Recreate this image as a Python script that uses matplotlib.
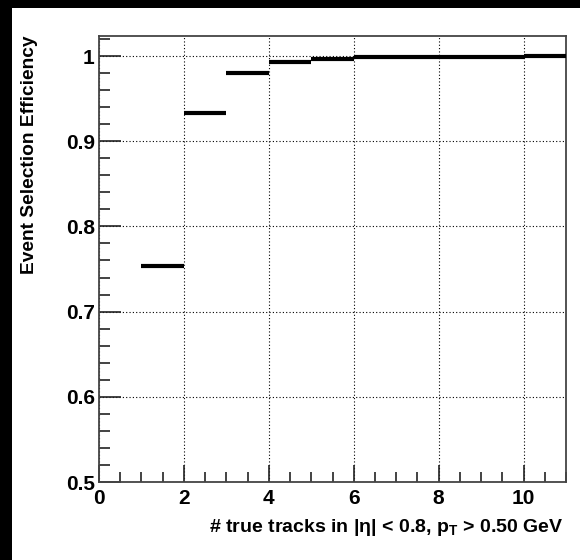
import matplotlib
matplotlib.use("Agg")
import matplotlib.pyplot as plt
from matplotlib.patches import Rectangle
from matplotlib.ticker import MultipleLocator

plt.rcParams['font.family'] = ['Liberation Sans', 'DejaVu Sans']
plt.rcParams['font.weight'] = 'bold'
plt.rcParams['mathtext.fontset'] = 'custom'
plt.rcParams['mathtext.rm'] = 'Liberation Sans:bold'
plt.rcParams['mathtext.it'] = 'Liberation Sans:bold'
plt.rcParams['mathtext.bf'] = 'Liberation Sans:bold'

# efficiency per bin of true track multiplicity
bin_lo = [1, 2, 3, 4, 5, 6, 7, 8, 9, 10]
bin_hi = [2, 3, 4, 5, 6, 7, 8, 9, 10, 11]
eff = [0.753, 0.9335, 0.980, 0.993, 0.997, 0.9985, 0.9987, 0.9988, 0.9988, 1.0]

fig = plt.figure(figsize=(5.8, 5.6), dpi=100)
fig.patch.set_facecolor('black')
W, H = 580.0, 560.0
fig.add_artist(Rectangle((12 / W, 0), 1 - 12 / W, 1 - 8 / H, transform=fig.transFigure,
                         facecolor='white', edgecolor='none', zorder=-10))

ax = fig.add_axes([99 / W, 1 - 482 / H, (566 - 99) / W, (482 - 36) / H])
ax.set_facecolor('white')

ax.hlines(eff, bin_lo, bin_hi, colors='black', linewidth=3, zorder=3)

ax.set_xlim(0, 11)
ax.set_ylim(0.5, 1.0235)
ax.xaxis.set_major_locator(MultipleLocator(2))
ax.xaxis.set_minor_locator(MultipleLocator(0.5))
ax.yaxis.set_minor_locator(MultipleLocator(0.02))
ax.set_yticks([0.5, 0.6, 0.7, 0.8, 0.9, 1.0])
ax.set_yticklabels(['0.5', '0.6', '0.7', '0.8', '0.9', '1'])

ax.grid(True, which='major', color='black', linestyle=(0, (1, 2)), linewidth=0.8)
ax.set_axisbelow(True)

ax.tick_params(axis='x', which='major', direction='in', length=12, width=1.2,
               color='#222222', labelsize=15, pad=5)
ax.tick_params(axis='x', which='minor', direction='in', length=7, width=1.2, color='#222222')
ax.tick_params(axis='y', which='major', direction='in', length=16, width=1.2,
               color='#222222', labelsize=15, pad=3)
ax.tick_params(axis='y', which='minor', direction='in', length=8, width=1.2, color='#222222')
for lbl in ax.get_xticklabels() + ax.get_yticklabels():
    lbl.set_fontweight('bold')

for s in ax.spines.values():
    s.set_color('#444444')
    s.set_linewidth(1.3)

fig.text(30 / W, 1 - 36 / H, 'Event Selection Efficiency', rotation=90,
         ha='center', va='top', fontsize=13.8, fontweight='bold')
fig.text(564 / W, 1 - 532 / H, r'# true tracks in |η| < 0.8, p$_{\mathrm{T}}$ > 0.50 GeV',
         ha='right', va='baseline', fontsize=14, fontweight='bold')

fig.savefig('out.png', dpi=100, facecolor=fig.get_facecolor())
